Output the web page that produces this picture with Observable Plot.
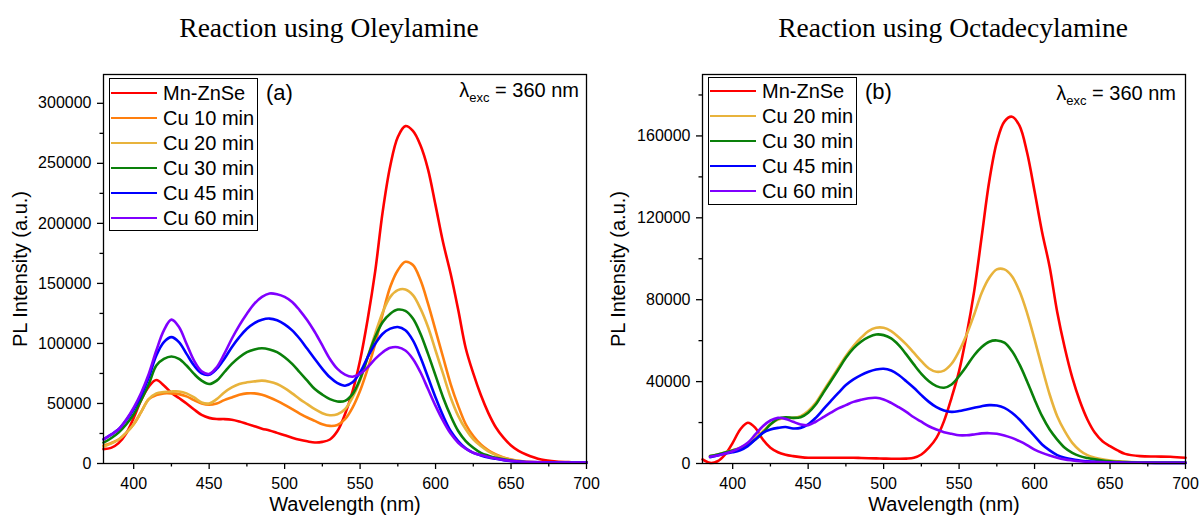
<!DOCTYPE html>
<html><head><meta charset="utf-8">
<script src="https://cdn.jsdelivr.net/npm/d3@7"></script>
<script src="https://cdn.jsdelivr.net/npm/@observablehq/plot@0.6"></script>
<style>
body{margin:0;background:#fff;}
#root{position:relative;width:1201px;height:518px;overflow:hidden;font-family:"Liberation Sans",Arial,sans-serif;color:#000;}
.title{position:absolute;font-family:"Liberation Serif","Times New Roman",serif;font-size:27.5px;white-space:nowrap;transform:translateX(-50%);line-height:1;}
.legend{position:absolute;border:1px solid #000;box-sizing:border-box;background:#fff;}
.row{position:absolute;left:0;height:25px;display:flex;align-items:center;white-space:nowrap;font-size:20px;line-height:1;}
.row .sw{display:inline-block;width:46px;height:0;border-top:2.6px solid;margin-left:1px;margin-right:6px;}
.panel{position:absolute;top:0;}
.ann{position:absolute;white-space:nowrap;line-height:1;}
.ann sub{font-size:13px;vertical-align:baseline;position:relative;top:5px;}
</style></head><body><div id="root"></div><script>
// ---------- data ----------
const wavelengths = [380,385,390,395,400,405,410,415,420,425,
  430,435,440,445,450,455,460,465,470,475,
  480,485,490,495,500,505,510,515,520,525,
  530,535,540,545,550,555,560,565,570,575,
  580,585,590,595,600,605,610,615,620,625,
  630,635,640,645,650,655,660,670,680,690,700];

const xMajorTicks = [400,450,500,550,600,650,700];
const xMinorTicks = [425,475,525,575,625,675];

// Panel (a): Oleylamine
const namesA = ["Mn-ZnSe","Cu 10 min","Cu 20 min","Cu 30 min","Cu 45 min","Cu 60 min"];
const colorsA = ["#ff0000","#ff7f0e","#e8b33c","#0a800a","#0000ff","#8000ff"];
const a_MnZnSe = [12000,13000,17000,25000,38000,53000,64000,69500,65000,59000,
  54500,50000,45000,40500,38000,37000,37000,36500,35000,33000,
  31000,29000,27500,25500,23500,21500,19800,18500,17500,18000,
  20000,27000,41000,60000,86000,120000,160000,210000,248000,272000,
  281000,277000,265000,245000,215000,184000,158000,128000,96000,75000,
  57000,42000,30000,21500,15000,10500,7500,3300,1600,1100,1000];
const a_Cu10 = [15000,17000,20000,25500,32700,43000,53600,57000,58400,58400,
  57800,55900,52800,50000,48900,50000,52800,55000,57200,58400,
  58400,57200,55000,52200,48900,45200,41600,38300,35500,32700,
  31300,32100,36900,46600,60600,78800,99700,124800,147200,161000,
  168000,165300,152800,133200,110900,88500,66200,48000,32700,22900,
  15900,11000,7500,5000,3400,2200,1400,1000,800,800,800];
const a_Cu20 = [14000,16500,20000,25500,32700,43000,53600,58400,59500,60000,
  60000,58400,55000,50800,50000,53600,59200,63400,66200,67600,
  68400,69000,68100,66200,62800,58400,53600,49400,45200,41900,
  40200,41000,45200,55000,69000,88500,108000,126000,138800,144400,
  145000,140200,129000,113700,94100,74600,55000,39700,28500,20100,
  14500,10000,7000,4800,3100,2100,1400,1000,800,800,800];
const a_Cu30 = [17300,21000,25700,32500,41000,53000,66200,81600,87100,89100,
  87100,81600,74600,69000,66200,69000,76000,83000,88500,92700,
  95000,96000,95000,92700,88500,83000,76000,69000,62000,57300,
  53600,51700,52200,57800,70400,88500,105300,117900,124800,128200,
  127100,120700,108100,91300,73200,55000,39700,27100,18700,13100,
  8900,6500,4700,3500,2500,1700,1100,900,800,800,800];
const a_Cu45 = [20100,24000,28500,36000,45200,57000,71800,90000,101100,105300,
  101100,91300,81600,75100,74000,78800,87100,96900,105300,112300,
  117000,119800,120700,119300,115900,110900,103900,95500,87100,78800,
  71800,67000,64800,67600,76000,88500,99700,108100,112300,113700,
  110900,102500,88500,71800,55000,39700,27100,18700,12600,8900,
  6700,5000,3900,2800,2000,1500,1100,900,800,800,800];
const a_Cu60 = [20100,24000,28500,36500,46600,59000,74600,94100,110900,119800,
  113700,99700,85700,76800,74600,80200,91300,103900,115100,124800,
  133200,138800,141600,141000,138800,134600,127600,119300,109500,98300,
  87100,78800,74000,72300,74600,80200,87100,92700,96400,96900,
  94100,87100,76000,62000,48000,35500,24900,17300,12300,8900,
  7000,5500,4200,3000,2200,1700,1400,1000,800,800,800];
const yMajorA = [0,50000,100000,150000,200000,250000,300000];
const yMinorA = [25000,75000,125000,175000,225000,275000];

// Panel (b): Octadecylamine
const namesB = ["Mn-ZnSe","Cu 20 min","Cu 30 min","Cu 45 min","Cu 60 min"];
const colorsB = ["#ff0000","#e8b33c","#0a800a","#0000ff","#8000ff"];
const b_MnZnSe = [2000,300,1100,4400,10100,16600,19900,17400,11700,7700,
  5500,4300,3600,3100,2800,2800,2800,2800,2800,2800,
  2800,2700,2600,2500,2400,2300,2300,2400,2800,4400,
  7700,12500,20700,32100,45100,63000,84200,111000,138000,157000,
  167000,169400,165000,152000,133000,113000,96000,74000,56500,41900,
  30500,21500,15000,10900,8500,6400,4700,3600,3400,3300,2800];
const b_Cu20 = [null,3600,4400,5500,6500,7700,9600,12500,15800,19100,
  21500,22300,22300,23100,25600,29600,35300,41100,46800,52500,
  57300,61400,64700,66300,66300,64700,61700,58200,54100,50000,
  46400,44800,45400,48700,54900,63000,72800,83400,90700,94800,
  94800,91500,84200,73600,60600,46800,33700,23100,15800,10100,
  6400,4100,2800,2000,1500,1100,800,600,500,500,500];
const b_Cu30 = [null,3600,4400,5400,6400,7300,9000,11700,15000,19100,
  21800,22600,22300,22600,24800,28800,34500,40200,45900,51600,
  56200,59500,61700,63000,62700,61100,57800,53300,48400,43800,
  40200,37800,37000,38600,42700,47600,52900,56900,59500,60100,
  59000,54900,48400,40200,31300,23100,16600,11700,7700,5200,
  3600,2700,2000,1500,1100,850,650,500,500,500,500];
const b_Cu45 = [null,3100,3900,4900,5500,6500,8500,11700,15000,16600,
  17400,17800,17100,17400,19100,22300,26400,30500,34500,38300,
  41100,43200,44800,45900,46300,45400,43200,40200,37000,33400,
  30100,27500,25900,25200,25600,26400,27200,28000,28500,28300,
  27200,24800,21500,17400,13400,9300,6400,4100,2800,2000,
  1500,1100,800,650,500,450,400,350,300,300,300];
const b_Cu60 = [null,3300,3900,4900,6000,7700,10100,14200,18200,21000,
  22300,21800,20400,19100,18700,20400,22600,24800,26900,28500,
  30100,31100,31900,32100,31300,29600,27500,25200,22600,20400,
  18200,16600,15300,14500,13800,13800,14200,14700,14800,14500,
  13700,12500,10900,9000,6800,5200,3900,2800,2000,1500,
  1100,850,650,550,500,450,400,350,300,300,300];
const yMajorB = [0,40000,80000,120000,160000];
const yMinorB = [20000,60000,100000,140000,180000];

// ---------- drawing ----------
const root = document.getElementById("root");

function makePanel({series, names, colors, yMax, yMajor, yMinor, left, marginLeft, marginRight, ylabDx}) {
  const rows = [];
  series.forEach((vals, k) => vals.forEach((v, i) => {
    if (v != null) rows.push({wl: wavelengths[i], v, s: names[k]});
  }));
  const svg = Plot.plot({
    width: 600, height: 518,
    marginLeft, marginRight, marginTop: 74, marginBottom: 55,
    style: {fontFamily: "Liberation Sans, Arial, sans-serif", fontSize: "16px", color: "#000", background: "transparent", overflow: "visible"},
    x: {domain: [380, 700], label: null},
    y: {domain: [0, yMax], label: null},
    color: {domain: names, range: colors},
    marks: [
      Plot.line(rows, {x: "wl", y: "v", z: "s", stroke: "s", strokeWidth: 2.6, curve: "catmull-rom"}),
      Plot.frame({stroke: "#000", strokeWidth: 1.3}),
      Plot.axisX({ticks: xMajorTicks, tickSize: 6, tickPadding: 8, tickFormat: d => String(d), fontSize: 16, label: null, strokeWidth: 1.3}),
      Plot.axisX({ticks: xMinorTicks, tickSize: 3.5, tickFormat: () => "", label: null, strokeWidth: 1.3}),
      Plot.axisY({ticks: yMajor, tickSize: 6, tickPadding: 6, tickFormat: d => String(d), fontSize: 16, label: null, strokeWidth: 1.3}),
      Plot.axisY({ticks: yMinor, tickSize: 3.5, tickFormat: () => "", label: null, strokeWidth: 1.3}),
      Plot.text(["Wavelength (nm)"], {text: d => d, frameAnchor: "bottom", lineAnchor: "middle", textAnchor: "middle", dy: 41, fontSize: 20}),
      Plot.text(["PL Intensity (a.u.)"], {text: d => d, frameAnchor: "left", lineAnchor: "middle", textAnchor: "middle", dx: ylabDx, rotate: -90, fontSize: 20})
    ]
  });
  const wrap = document.createElement("div");
  wrap.className = "panel";
  wrap.style.left = left + "px";
  wrap.appendChild(svg);
  root.appendChild(wrap);
}

function addLegend(names, colors, x, y, w, firstCenter) {
  const box = document.createElement("div");
  box.className = "legend";
  box.style.left = x + "px"; box.style.top = y + "px";
  box.style.width = w + "px"; box.style.height = (names.length * 25 + 3) + "px";
  names.forEach((n, i) => {
    const r = document.createElement("div");
    r.className = "row";
    r.style.top = (firstCenter - 1 - 12.5 + i * 25) + "px";
    const sw = document.createElement("span");
    sw.className = "sw"; sw.style.borderTopColor = colors[i];
    const t = document.createElement("span"); t.textContent = n;
    r.appendChild(sw); r.appendChild(t);
    box.appendChild(r);
  });
  root.appendChild(box);
}

function addText(html, cls, style) {
  const d = document.createElement("div");
  d.className = cls; d.innerHTML = html;
  Object.assign(d.style, style);
  root.appendChild(d);
}

makePanel({series: [a_MnZnSe, a_Cu10, a_Cu20, a_Cu30, a_Cu45, a_Cu60], names: namesA, colors: colorsA,
  yMax: 324000, yMajor: yMajorA, yMinor: yMinorA, left: 0, marginLeft: 103, marginRight: 14, ylabDx: -83});
makePanel({series: [b_MnZnSe, b_Cu20, b_Cu30, b_Cu45, b_Cu60], names: namesB, colors: colorsB,
  yMax: 190000, yMajor: yMajorB, yMinor: yMinorB, left: 600, marginLeft: 102, marginRight: 15, ylabDx: -84});

addLegend(namesA, colorsA, 109, 78, 149, 14.7);
addLegend(namesB, colorsB, 708, 77, 149, 14);

addText("Reaction using Oleylamine", "title", {left: "329px", top: "14px"});
addText("Reaction using Octadecylamine", "title", {left: "953px", top: "14px"});
addText("(a)", "ann", {left: "266px", top: "82px", fontSize: "22px"});
addText("(b)", "ann", {left: "865px", top: "81px", fontSize: "22px"});
addText("λ<sub>exc</sub> = 360 nm", "ann", {right: (1201 - 579) + "px", top: "80px", fontSize: "20px"});
addText("λ<sub>exc</sub> = 360 nm", "ann", {right: (1201 - 1176) + "px", top: "83px", fontSize: "20px"});
</script></body></html>
